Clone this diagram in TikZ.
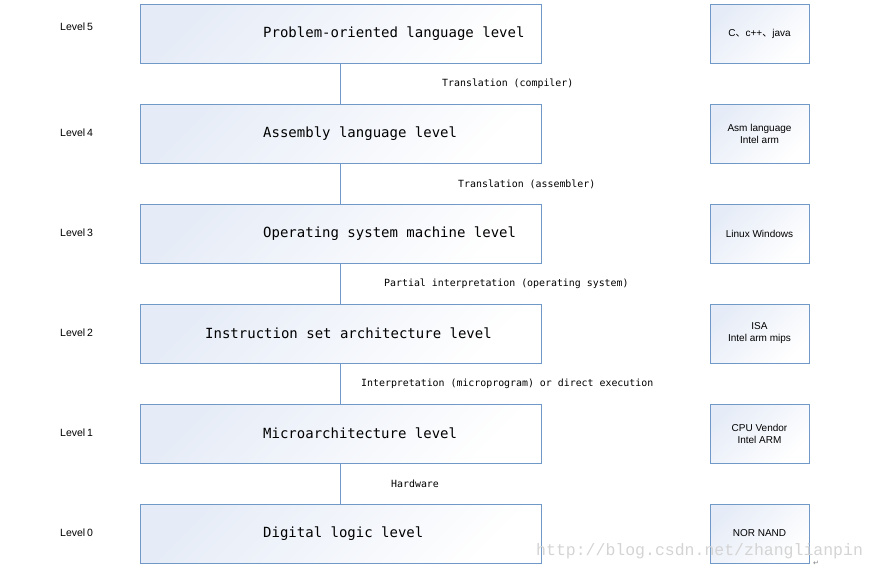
\documentclass[tikz,border=0pt]{standalone}
\usepackage{fontspec}
\setmainfont{Liberation Sans}
\newfontfamily\monofont{DejaVu Sans Mono}
\newfontfamily\wmfont{Liberation Mono}
\newfontfamily\cjkfont{Noto Sans CJK SC}
\newfontfamily\symfont{DejaVu Sans}
\definecolor{boxline}{HTML}{7199C8}
\definecolor{boxfill}{HTML}{E6ECF7}
\definecolor{wm}{HTML}{D4D4D4}
\begin{document}
\begin{tikzpicture}[x=1pt,y=-1pt,
  mainbox/.style={draw=boxline, line width=0.9pt, top color=boxfill, bottom color=white, shading angle=45},
  sidebox/.style={draw=boxline, line width=0.9pt, top color=boxfill, bottom color=white, shading angle=45, minimum width=99pt, minimum height=59pt, align=center, font=\fontsize{10}{12}\selectfont, inner sep=0pt},
  maintext/.style={anchor=west, inner sep=0pt, font=\monofont\fontsize{14}{16}\selectfont},
  steplabel/.style={anchor=west, inner sep=0pt, font=\monofont\fontsize{9.9}{12}\selectfont},
  levellabel/.style={anchor=west, inner sep=0pt, font=\fontsize{10.5}{12}\selectfont},
  conn/.style={draw=boxline, line width=0.9pt}]
\useasboundingbox (0,0) rectangle (878,571);
% main boxes
\foreach \i/\y in {5/4,4/104,3/204,2/304,1/404,0/504}{
  \path[mainbox] (140,\y) rectangle (541,\y+59);
  \coordinate (t\i) at (340.5,\y);
  \coordinate (b\i) at (340.5,\y+59);
}
\node[maintext] (m5) at (263,33.5) {Problem-oriented language level};
\node[maintext] (m4) at (263,133.5) {Assembly language level};
\node[maintext] (m3) at (263,233.5) {Operating system machine level};
\node[maintext] (m2) at (205,333.5) {Instruction set architecture level};
\node[maintext] (m1) at (263,433.5) {Microarchitecture level};
\node[maintext] (m0) at (263,533.5) {Digital logic level};
% connectors
\draw[conn] (b5) -- (t4);
\draw[conn] (b4) -- (t3);
\draw[conn] (b3) -- (t2);
\draw[conn] (b2) -- (t1);
\draw[conn] (b1) -- (t0);
% step labels
\node[steplabel] (s54) at (442,84) {Translation (compiler)};
\node[steplabel] (s43) at (458,184) {Translation (assembler)};
\node[steplabel] (s32) at (384,284) {Partial interpretation (operating system)};
\node[steplabel] (s21) at (361,384) {Interpretation (microprogram) or direct execution};
\node[steplabel] (s10) at (391,484) {Hardware};
% level labels
\node[levellabel] (l5) at (60,27) {Level\,5};
\node[levellabel] (l4) at (60,133) {Level\,4};
\node[levellabel] (l3) at (60,233) {Level\,3};
\node[levellabel] (l2) at (60,333) {Level\,2};
\node[levellabel] (l1) at (60,433) {Level\,1};
\node[levellabel] (l0) at (60,533) {Level\,0};
% side boxes
\node[sidebox] (r5) at (759.5,33.5) {C{\cjkfont 、}c++{\cjkfont 、}java};
\node[sidebox] (r4) at (759.5,133.5) {Asm language\\Intel arm};
\node[sidebox] (r3) at (759.5,233.5) {Linux Windows};
\node[sidebox] (r2) at (759.5,333.5) {ISA\\Intel arm mips};
\node[sidebox] (r1) at (759.5,433.5) {CPU Vendor\\Intel ARM};
\node[sidebox] (r0) at (759.5,533.5) {NOR NAND};
% watermark
\node[anchor=west, inner sep=0pt, text=wm, font=\wmfont\fontsize{16.5}{18}\selectfont] (wmk) at (536,551) {http://blog.csdn.net/zhanglianpin};
\node[inner sep=0pt, text=gray, font=\symfont\fontsize{7}{8}\selectfont] (ret) at (816,563) {↵};
\end{tikzpicture}
\end{document}
